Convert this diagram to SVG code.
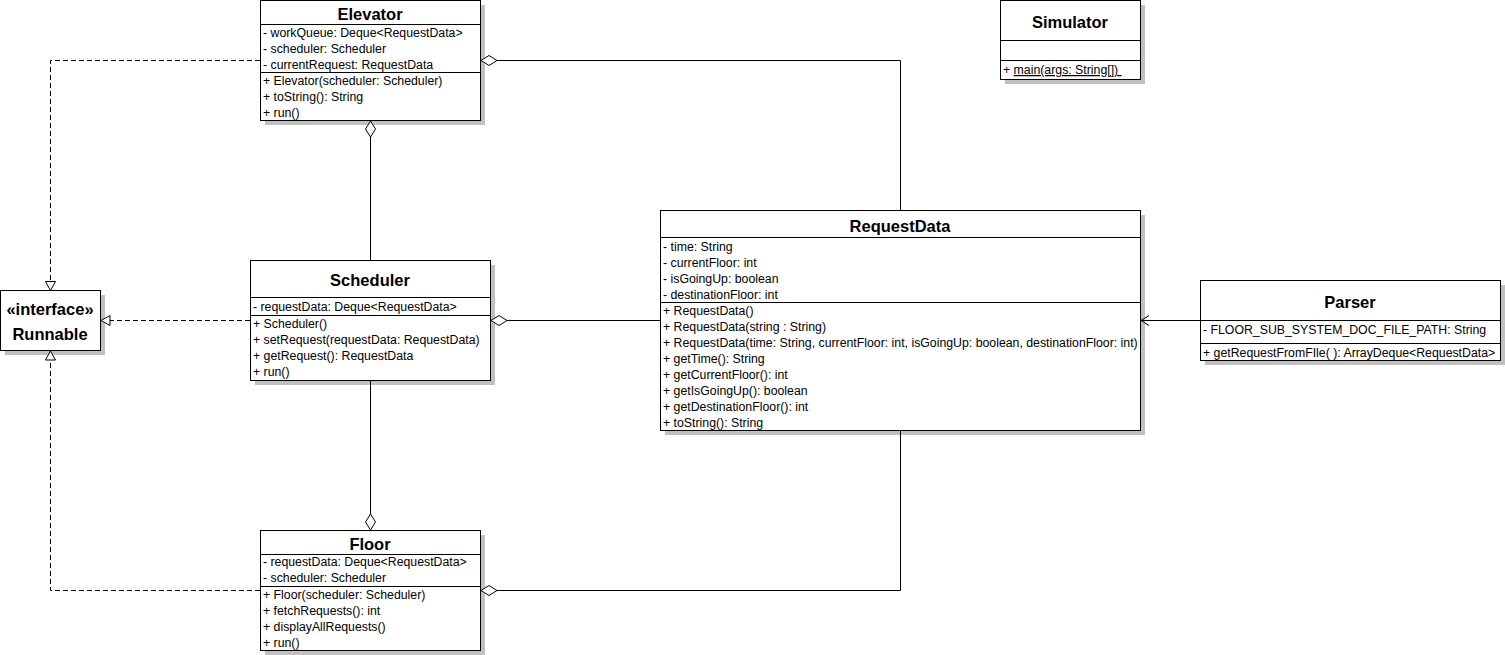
<svg xmlns="http://www.w3.org/2000/svg" width="1505" height="655" viewBox="0 0 1505 655">
<style>
.box{fill:#fff;stroke:#000;stroke-width:1}
.sh{fill:#c0c0c0}
.sep{stroke:#000;stroke-width:1;shape-rendering:crispEdges}
.t{font-family:"Liberation Sans",Arial,sans-serif;font-size:16.5px;font-weight:bold;text-anchor:middle;fill:#000}
.m{font-family:"Liberation Sans",Arial,sans-serif;font-size:12.3px;fill:#000}
.ln{fill:none;stroke:#000;stroke-width:1}
.dash{fill:none;stroke:#000;stroke-width:1;stroke-dasharray:5,3}
.dia{fill:#fff;stroke:#000;stroke-width:1}
</style>
<rect width="1505" height="655" fill="#fff"/>

<g id="elevator">
<rect class="sh" x="265" y="5" width="220" height="120"/>
<rect class="box" x="260.5" y="0.5" width="220" height="120"/>
<line class="sep" x1="260.5" y1="24.5" x2="480.5" y2="24.5"/>
<line class="sep" x1="260.5" y1="72.5" x2="480.5" y2="72.5"/>
<text class="t" x="370" y="20">Elevator</text>
<text class="m" x="263" y="37">- workQueue: Deque&lt;RequestData&gt;</text>
<text class="m" x="263" y="53">- scheduler: Scheduler</text>
<text class="m" x="263" y="69">- currentRequest: RequestData</text>
<text class="m" x="263" y="85">+ Elevator(scheduler: Scheduler)</text>
<text class="m" x="263" y="101">+ toString(): String</text>
<text class="m" x="263" y="117">+ run()</text>
</g>

<g id="simulator">
<rect class="sh" x="1005" y="5" width="140" height="79"/>
<rect class="box" x="1000.5" y="0.5" width="140" height="79"/>
<line class="sep" x1="1000.5" y1="40.5" x2="1140.5" y2="40.5"/>
<line class="sep" x1="1000.5" y1="60.5" x2="1140.5" y2="60.5"/>
<text class="t" x="1070" y="28">Simulator</text>
<text class="m" x="1003" y="74" xml:space="preserve">+ <tspan text-decoration="underline">main(args: String[]) </tspan></text>
</g>

<g id="runnable">
<rect class="sh" x="5" y="295" width="100" height="60"/>
<rect class="box" x="0.5" y="290.5" width="100" height="60"/>
<text class="t" x="50" y="315">«interface»</text>
<text class="t" x="50" y="340">Runnable</text>
</g>

<g id="scheduler">
<rect class="sh" x="255" y="265" width="240" height="120"/>
<rect class="box" x="250.5" y="260.5" width="240" height="120"/>
<line class="sep" x1="250.5" y1="297.5" x2="490.5" y2="297.5"/>
<line class="sep" x1="250.5" y1="315.5" x2="490.5" y2="315.5"/>
<text class="t" x="370" y="286">Scheduler</text>
<text class="m" x="253" y="311">- requestData: Deque&lt;RequestData&gt;</text>
<text class="m" x="253" y="328">+ Scheduler()</text>
<text class="m" x="253" y="344">+ setRequest(requestData: RequestData)</text>
<text class="m" x="253" y="360">+ getRequest(): RequestData</text>
<text class="m" x="253" y="376">+ run()</text>
</g>

<g id="floor">
<rect class="sh" x="265" y="535" width="220" height="120"/>
<rect class="box" x="260.5" y="530.5" width="220" height="120"/>
<line class="sep" x1="260.5" y1="554.5" x2="480.5" y2="554.5"/>
<line class="sep" x1="260.5" y1="586.5" x2="480.5" y2="586.5"/>
<text class="t" x="370" y="550">Floor</text>
<text class="m" x="263" y="566">- requestData: Deque&lt;RequestData&gt;</text>
<text class="m" x="263" y="582">- scheduler: Scheduler</text>
<text class="m" x="263" y="599">+ Floor(scheduler: Scheduler)</text>
<text class="m" x="263" y="615">+ fetchRequests(): int</text>
<text class="m" x="263" y="631">+ displayAllRequests()</text>
<text class="m" x="263" y="647">+ run()</text>
</g>

<g id="requestdata">
<rect class="sh" x="665" y="215" width="480" height="220"/>
<rect class="box" x="660.5" y="210.5" width="480" height="220"/>
<line class="sep" x1="660.5" y1="237.5" x2="1140.5" y2="237.5"/>
<line class="sep" x1="660.5" y1="302.5" x2="1140.5" y2="302.5"/>
<text class="t" x="900" y="232">RequestData</text>
<text class="m" x="663" y="251">- time: String</text>
<text class="m" x="663" y="267">- currentFloor: int</text>
<text class="m" x="663" y="283">- isGoingUp: boolean</text>
<text class="m" x="663" y="299">- destinationFloor: int</text>
<text class="m" x="663" y="315">+ RequestData()</text>
<text class="m" x="663" y="331">+ RequestData(string : String)</text>
<text class="m" x="663" y="347">+ RequestData(time: String, currentFloor: int, isGoingUp: boolean, destinationFloor: int)</text>
<text class="m" x="663" y="363">+ getTime(): String</text>
<text class="m" x="663" y="379">+ getCurrentFloor(): int</text>
<text class="m" x="663" y="395">+ getIsGoingUp(): boolean</text>
<text class="m" x="663" y="411">+ getDestinationFloor(): int</text>
<text class="m" x="663" y="427">+ toString(): String</text>
</g>

<g id="parser">
<rect class="sh" x="1205" y="285" width="300" height="80"/>
<rect class="box" x="1200.5" y="280.5" width="300" height="80"/>
<line class="sep" x1="1200.5" y1="320.5" x2="1500.5" y2="320.5"/>
<line class="sep" x1="1200.5" y1="343.5" x2="1500.5" y2="343.5"/>
<text class="t" x="1350" y="308">Parser</text>
<text class="m" x="1203" y="334">- FLOOR_SUB_SYSTEM_DOC_FILE_PATH: String</text>
<text class="m" x="1203" y="357">+ getRequestFromFIle( ): ArrayDeque&lt;RequestData&gt;</text>
</g>

<g id="connectors">
<path class="ln" d="M497,60.5 H900.5 V210.5"/>
<polygon class="dia" points="481,60.5 489,55.5 497,60.5 489,65.5"/>
<path class="ln" d="M370.5,137 V260.5"/>
<polygon class="dia" points="370.5,121 375.5,129 370.5,137 365.5,129"/>
<path class="ln" d="M507,320.5 H660.5"/>
<polygon class="dia" points="491,320.5 499,315.5 507,320.5 499,325.5"/>
<path class="ln" d="M370.5,380.5 V514"/>
<polygon class="dia" points="370.5,514 375.5,522 370.5,530 365.5,522"/>
<path class="ln" d="M497,590.5 H900.5 V430.5"/>
<polygon class="dia" points="481,590.5 489,585.5 497,590.5 489,595.5"/>
<path class="ln" d="M1200.5,320.5 H1141"/>
<path class="ln" d="M1149,315.5 L1141,320.5 L1149,325.5"/>
<path class="dash" d="M260,60.5 H50.5 V281.5"/>
<polygon class="dia" points="50.5,290.5 45.5,281.5 55.5,281.5"/>
<path class="dash" d="M250,320.5 H110"/>
<polygon class="dia" points="101,320.5 110,315.5 110,325.5"/>
<path class="dash" d="M260,590.5 H50.5 V360"/>
<polygon class="dia" points="50.5,351 45.5,360 55.5,360"/>
</g>
</svg>
